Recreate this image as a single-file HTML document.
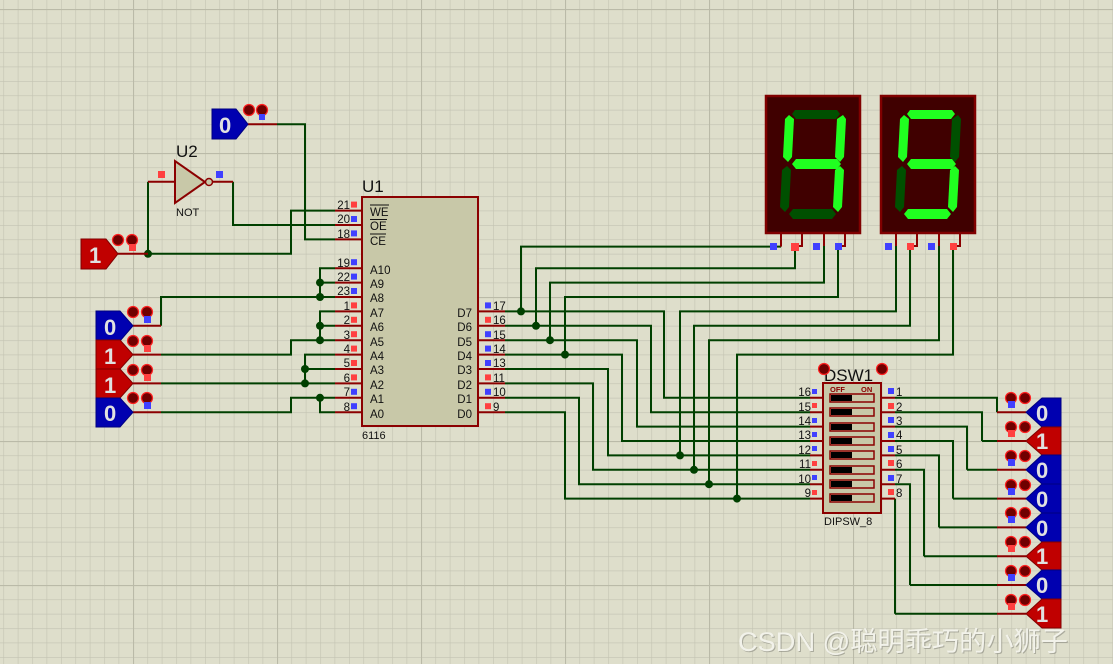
<!DOCTYPE html>
<html><head><meta charset="utf-8"><style>
html,body{margin:0;padding:0;background:#dedecb;}
svg{display:block;font-family:"Liberation Sans","Noto Sans CJK SC",sans-serif;}
</style></head><body>
<svg width="1113" height="664" viewBox="0 0 1113 664" xmlns="http://www.w3.org/2000/svg">
<defs>
<pattern id="mn" width="14.4" height="14.4" patternUnits="userSpaceOnUse" patternTransform="translate(3.4,9)">
<path d="M0 0H14.4M0 0V14.4" stroke="#c3c3b2" stroke-width="1.2" fill="none"/>
</pattern>
<pattern id="mj" width="144" height="144" patternUnits="userSpaceOnUse" patternTransform="translate(133,9)">
<path d="M0 0H144M0 0V144" stroke="#babaa8" stroke-width="2.2" fill="none"/>
</pattern>
</defs>
<rect width="1113" height="664" fill="#dedecb"/>
<rect width="1113" height="664" fill="url(#mn)"/>
<rect width="1113" height="664" fill="url(#mj)"/>

<!-- green wires -->
<g stroke="#004000" stroke-width="2" fill="none">
<path d="M277 124.2H305V239.4H335"/>
<path d="M233 181.8V225H335"/>
<path d="M148 181.8V253.8"/>
<path d="M148 253.8H291V210.6H335"/>
<path d="M161 325.8V297H335"/>
<path d="M335 268.2H320V297M320 282.6H335"/>
<path d="M161 354.6H291V340.2H335"/>
<path d="M335 311.4H320V340.2M320 325.8H335"/>
<path d="M161 383.4H335"/>
<path d="M335 354.6H305V383.4M305 369H335"/>
<path d="M161 412.2H291V397.8H335"/>
<path d="M335 412.2H320V397.8"/>
<!-- data bus -->
<path d="M505 311.4H664V397.8H810"/>
<path d="M505 325.8H651V412.2H810"/>
<path d="M505 340.2H637V426.6H810"/>
<path d="M505 354.6H622V441H810"/>
<path d="M505 369H608V455.4H810"/>
<path d="M505 383.4H593V469.8H810"/>
<path d="M505 397.8H579V484.2H810"/>
<path d="M505 412.2H565V498.6H810"/>
<!-- display 1 -->
<path d="M521 311.4V246.6H781"/>
<path d="M536 325.8V268.2H795V246"/>
<path d="M550 340.2V282.6H824V246"/>
<path d="M565 354.6V297H838V246"/>
<!-- display 2 -->
<path d="M680 455.4V311.4H896V246"/>
<path d="M694 469.8V325.8H910V246"/>
<path d="M709 484.2V340.2H939V246"/>
<path d="M737 498.6V354.6H953V246"/>
<!-- dip right -->
<path d="M895 397.8H997V412.2"/>
<path d="M895 412.2H982V441"/>
<path d="M895 426.6H967V469.8"/>
<path d="M895 441H953V498.6"/>
<path d="M895 455.4H939V527.4"/>
<path d="M895 469.8H924V556.2"/>
<path d="M895 484.2H910V585"/>
<path d="M895 498.6V613.8"/>
<path d="M997 441H982M997 469.8H967M997 498.6H953M997 527.4H939M997 556.2H924M997 585H910M997 613.8H895"/>
</g>
<g fill="#004000">
<circle cx="148" cy="253.8" r="4"/>
<circle cx="320" cy="282.6" r="4"/><circle cx="320" cy="297" r="4"/>
<circle cx="320" cy="325.8" r="4"/><circle cx="320" cy="340.2" r="4"/>
<circle cx="305" cy="369" r="4"/><circle cx="305" cy="383.4" r="4"/>
<circle cx="320" cy="397.8" r="4"/>
<circle cx="521" cy="311.4" r="4"/><circle cx="536" cy="325.8" r="4"/>
<circle cx="550" cy="340.2" r="4"/><circle cx="565" cy="354.6" r="4"/>
<circle cx="680" cy="455.4" r="4"/><circle cx="694" cy="469.8" r="4"/>
<circle cx="709" cy="484.2" r="4"/><circle cx="737" cy="498.6" r="4"/>
</g>

<!-- red pin stubs -->
<g stroke="#8b0000" stroke-width="2" fill="none">
<path d="M248 124.2H277"/>
<path d="M148 181.8H175M213 181.8H233"/>
<path d="M118 253.8H148"/>
<path d="M133 325.8H161M133 354.6H161M133 383.4H161M133 412.2H161"/>
<path d="M335 210.6H362M335 225H362M335 239.4H362M335 268.2H362M335 282.6H362M335 297H362M335 311.4H362M335 325.8H362M335 340.2H362M335 354.6H362M335 369H362M335 383.4H362M335 397.8H362M335 412.2H362"/>
<path d="M478 311.4H505M478 325.8H505M478 340.2H505M478 354.6H505M478 369H505M478 383.4H505M478 397.8H505M478 412.2H505"/>
<path d="M810 397.8H823M810 412.2H823M810 426.6H823M810 441H823M810 455.4H823M810 469.8H823M810 484.2H823M810 498.6H823"/>
<path d="M881 397.8H895M881 412.2H895M881 426.6H895M881 441H895M881 455.4H895M881 469.8H895M881 484.2H895M881 498.6H895"/>
<path d="M997 412.2H1026M997 441H1026M997 469.8H1026M997 498.6H1026M997 527.4H1026M997 556.2H1026M997 585H1026M997 613.8H1026"/>
<path d="M781 233V246.6M802 233V246H795M824 233V246M845 233V246H838"/>
<path d="M896 233V246M917 233V246H910M939 233V246M960 233V246H953"/>
</g>

<!-- U1 chip -->
<rect x="362" y="197" width="116" height="229" fill="#c8c8a8" stroke="#8b0000" stroke-width="2"/>
<text x="362" y="192" font-size="17" fill="#111">U1</text>
<text x="362" y="439" font-size="11" fill="#111">6116</text>
<g font-size="11.5" fill="#111">
<text x="370" y="216">WE</text><text x="370" y="230">OE</text><text x="370" y="245">CE</text>
<path d="M370 205H389M370 219.5H387M370 234H386" stroke="#111" stroke-width="1"/>
<text x="370" y="274">A10</text><text x="370" y="288">A9</text><text x="370" y="302">A8</text>
<text x="370" y="317">A7</text><text x="370" y="331">A6</text><text x="370" y="346">A5</text>
<text x="370" y="360">A4</text><text x="370" y="374">A3</text><text x="370" y="389">A2</text>
<text x="370" y="403">A1</text><text x="370" y="418">A0</text>
<g text-anchor="end">
<text x="472" y="317">D7</text><text x="472" y="331">D6</text><text x="472" y="346">D5</text>
<text x="472" y="360">D4</text><text x="472" y="374">D3</text><text x="472" y="389">D2</text>
<text x="472" y="403">D1</text><text x="472" y="418">D0</text>
</g>
</g>
<g font-size="11.5" fill="#111" text-anchor="end">
<text x="350" y="209">21</text><text x="350" y="223">20</text><text x="350" y="238">18</text>
<text x="350" y="267">19</text><text x="350" y="281">22</text><text x="350" y="295">23</text>
<text x="350" y="310">1</text><text x="350" y="324">2</text><text x="350" y="339">3</text>
<text x="350" y="353">4</text><text x="350" y="367">5</text><text x="350" y="382">6</text>
<text x="350" y="396">7</text><text x="350" y="411">8</text>
</g>
<g font-size="11.5" fill="#111">
<text x="493" y="310">17</text><text x="493" y="324">16</text><text x="493" y="339">15</text>
<text x="493" y="353">14</text><text x="493" y="367">13</text><text x="493" y="382">11</text>
<text x="493" y="396">10</text><text x="493" y="411">9</text>
</g>
<g>
<rect x="351" y="201.6" width="6" height="6" fill="#ff4040"/>
<rect x="351" y="216" width="6" height="6" fill="#4040ff"/>
<rect x="351" y="230.4" width="6" height="6" fill="#4040ff"/>
<rect x="351" y="259.2" width="6" height="6" fill="#4040ff"/>
<rect x="351" y="273.6" width="6" height="6" fill="#4040ff"/>
<rect x="351" y="288" width="6" height="6" fill="#4040ff"/>
<rect x="351" y="302.4" width="6" height="6" fill="#ff4040"/>
<rect x="351" y="316.8" width="6" height="6" fill="#ff4040"/>
<rect x="351" y="331.2" width="6" height="6" fill="#ff4040"/>
<rect x="351" y="345.6" width="6" height="6" fill="#ff4040"/>
<rect x="351" y="360" width="6" height="6" fill="#ff4040"/>
<rect x="351" y="374.4" width="6" height="6" fill="#ff4040"/>
<rect x="351" y="388.8" width="6" height="6" fill="#4040ff"/>
<rect x="351" y="403.2" width="6" height="6" fill="#4040ff"/>
<rect x="485" y="302.4" width="6" height="6" fill="#4040ff"/>
<rect x="485" y="316.8" width="6" height="6" fill="#ff4040"/>
<rect x="485" y="331.2" width="6" height="6" fill="#4040ff"/>
<rect x="485" y="345.6" width="6" height="6" fill="#4040ff"/>
<rect x="485" y="360" width="6" height="6" fill="#4040ff"/>
<rect x="485" y="374.4" width="6" height="6" fill="#ff4040"/>
<rect x="485" y="388.8" width="6" height="6" fill="#4040ff"/>
<rect x="485" y="403.2" width="6" height="6" fill="#ff4040"/>
</g>

<!-- NOT gate -->
<polygon points="175,161 175,203 205,182" fill="#c8c8a8" stroke="#8b0000" stroke-width="2"/>
<circle cx="209" cy="182" r="3.5" fill="#c8c8a8" stroke="#8b0000" stroke-width="1.5"/>
<text x="176" y="157" font-size="17" fill="#111">U2</text>
<text x="176" y="216" font-size="11" fill="#111">NOT</text>
<rect x="158" y="171" width="7" height="7" fill="#ff4040"/>
<rect x="216" y="171" width="7" height="7" fill="#4040ff"/>

<!-- logic states left -->
<g font-weight="bold" font-size="22" fill="#e0e0e0">
<polygon points="212,109 236,109 248,124.2 236,139 212,139" fill="#0000b0" stroke="#000080"/>
<text x="219" y="133">0</text>
<polygon points="81,239 106,239 118,253.8 106,269 81,269" fill="#c00000" stroke="#800000"/>
<text x="89" y="263">1</text>
<polygon points="96,311 120,311 133,325.8 120,341 96,341" fill="#0000b0" stroke="#000080"/>
<text x="104" y="335">0</text>
<polygon points="96,340 120,340 133,354.6 120,369 96,369" fill="#c00000" stroke="#800000"/>
<text x="104" y="364">1</text>
<polygon points="96,369 120,369 133,383.4 120,398 96,398" fill="#c00000" stroke="#800000"/>
<text x="104" y="393">1</text>
<polygon points="96,398 120,398 133,412.2 120,427 96,427" fill="#0000b0" stroke="#000080"/>
<text x="104" y="421">0</text>
</g>
<g fill="#700000" stroke="#ff2020" stroke-width="1.2">
<circle cx="249" cy="110" r="5.5"/><circle cx="262" cy="110" r="5.5"/>
<circle cx="118" cy="240" r="5.5"/><circle cx="132" cy="240" r="5.5"/>
<circle cx="133" cy="312" r="5.5"/><circle cx="147" cy="312" r="5.5"/>
<circle cx="133" cy="341" r="5.5"/><circle cx="147" cy="341" r="5.5"/>
<circle cx="133" cy="370" r="5.5"/><circle cx="147" cy="370" r="5.5"/>
<circle cx="133" cy="398" r="5.5"/><circle cx="147" cy="398" r="5.5"/>
</g>
<rect x="259" y="114" width="6" height="6" fill="#4040ff"/>
<rect x="129" y="244" width="7" height="7" fill="#ff4040"/>
<rect x="144" y="316" width="7" height="7" fill="#4040ff"/>
<rect x="144" y="345" width="7" height="7" fill="#ff4040"/>
<rect x="144" y="374" width="7" height="7" fill="#ff4040"/>
<rect x="144" y="402" width="7" height="7" fill="#4040ff"/>

<!-- displays -->
<g>
<rect x="766" y="96" width="94" height="137" fill="#400000" stroke="#800000" stroke-width="2.5"/>
<g transform="translate(765,95)">
<polygon points="30,15 72,15 75,19 71,24 31,24 27,19" fill="#005000"/>
<polygon points="24,20 29,24 27,62 23,67 18,62 20,24" fill="#20ff20"/>
<polygon points="78,20 81,24 79,62 75,67 70,62 72,24" fill="#20ff20"/>
<polygon points="27,69 31,64 72,64 76,69 72,74 31,74" fill="#20ff20"/>
<polygon points="22,71 26,75 24,112 20,117 15,112 17,75" fill="#005000"/>
<polygon points="75,71 79,75 77,112 73,117 68,112 70,75" fill="#20ff20"/>
<polygon points="24,119 28,114 67,114 71,119 67,124 28,124" fill="#005000"/>
</g>
<rect x="881" y="96" width="94" height="137" fill="#400000" stroke="#800000" stroke-width="2.5"/>
<g transform="translate(880,95)">
<polygon points="30,15 72,15 75,19 71,24 31,24 27,19" fill="#20ff20"/>
<polygon points="24,20 29,24 27,62 23,67 18,62 20,24" fill="#20ff20"/>
<polygon points="78,20 81,24 79,62 75,67 70,62 72,24" fill="#005000"/>
<polygon points="27,69 31,64 72,64 76,69 72,74 31,74" fill="#20ff20"/>
<polygon points="22,71 26,75 24,112 20,117 15,112 17,75" fill="#005000"/>
<polygon points="75,71 79,75 77,112 73,117 68,112 70,75" fill="#20ff20"/>
<polygon points="24,119 28,114 67,114 71,119 67,124 28,124" fill="#20ff20"/>
</g>
<rect x="770" y="243" width="7" height="7" fill="#4040ff"/>
<rect x="791" y="243" width="8" height="8" fill="#ff4040"/>
<rect x="813" y="243" width="7" height="7" fill="#4040ff"/>
<rect x="835" y="243" width="7" height="7" fill="#4040ff"/>
<rect x="885" y="243" width="7" height="7" fill="#4040ff"/>
<rect x="907" y="243" width="7" height="7" fill="#ff4040"/>
<rect x="928" y="243" width="7" height="7" fill="#4040ff"/>
<rect x="950" y="243" width="7" height="7" fill="#ff4040"/>
</g>

<!-- DIP switch -->
<rect x="823" y="383" width="58" height="130" fill="#c8c8a8" stroke="#8b0000" stroke-width="2"/>
<text x="824" y="381" font-size="17" fill="#111">DSW1</text>
<text x="824" y="525" font-size="11" fill="#111">DIPSW_8</text>
<text x="830" y="392" font-size="7.5" font-weight="bold" fill="#8b0000">OFF</text>
<text x="861" y="392" font-size="7.5" font-weight="bold" fill="#8b0000">ON</text>
<g fill="#700000" stroke="#ff2020" stroke-width="1.2">
<circle cx="824" cy="369" r="5.5"/><circle cx="882" cy="369" r="5.5"/>
</g>
<g>
<g stroke="#8b0000" stroke-width="1.5" fill="#c8c8a8">
<rect x="830" y="394" width="44" height="8"/><rect x="830" y="408" width="44" height="8"/>
<rect x="830" y="423" width="44" height="8"/><rect x="830" y="437" width="44" height="8"/>
<rect x="830" y="451" width="44" height="8"/><rect x="830" y="466" width="44" height="8"/>
<rect x="830" y="480" width="44" height="8"/><rect x="830" y="494" width="44" height="8"/>
</g>
<g fill="#000">
<rect x="831" y="395" width="21" height="6"/><rect x="831" y="409" width="21" height="6"/>
<rect x="831" y="424" width="21" height="6"/><rect x="831" y="438" width="21" height="6"/>
<rect x="831" y="452" width="21" height="6"/><rect x="831" y="467" width="21" height="6"/>
<rect x="831" y="481" width="21" height="6"/><rect x="831" y="495" width="21" height="6"/>
</g>
</g>
<g font-size="11.5" fill="#111" text-anchor="end">
<text x="811" y="396">16</text><text x="811" y="411">15</text><text x="811" y="425">14</text>
<text x="811" y="439">13</text><text x="811" y="454">12</text><text x="811" y="468">11</text>
<text x="811" y="483">10</text><text x="811" y="497">9</text>
</g>
<g font-size="11.5" fill="#111">
<text x="896" y="396">1</text><text x="896" y="411">2</text><text x="896" y="425">3</text>
<text x="896" y="439">4</text><text x="896" y="454">5</text><text x="896" y="468">6</text>
<text x="896" y="483">7</text><text x="896" y="497">8</text>
</g>
<g>
<rect x="812" y="389" width="5" height="5" fill="#4040ff"/><rect x="812" y="403" width="5" height="5" fill="#ff4040"/>
<rect x="812" y="418" width="5" height="5" fill="#4040ff"/><rect x="812" y="432" width="5" height="5" fill="#4040ff"/>
<rect x="812" y="446" width="5" height="5" fill="#4040ff"/><rect x="812" y="461" width="5" height="5" fill="#ff4040"/>
<rect x="812" y="475" width="5" height="5" fill="#4040ff"/><rect x="812" y="490" width="5" height="5" fill="#ff4040"/>
<rect x="888" y="388" width="6" height="6" fill="#4040ff"/><rect x="888" y="403" width="6" height="6" fill="#ff4040"/>
<rect x="888" y="417" width="6" height="6" fill="#4040ff"/><rect x="888" y="432" width="6" height="6" fill="#4040ff"/>
<rect x="888" y="446" width="6" height="6" fill="#4040ff"/><rect x="888" y="460" width="6" height="6" fill="#ff4040"/>
<rect x="888" y="475" width="6" height="6" fill="#4040ff"/><rect x="888" y="489" width="6" height="6" fill="#ff4040"/>
</g>

<!-- logic states right -->
<g font-weight="bold" font-size="22" fill="#e0e0e0">
<polygon points="1061,398 1042,398 1026,412.2 1042,427 1061,427" fill="#0000b0" stroke="#000080"/><text x="1036" y="421">0</text>
<polygon points="1061,427 1042,427 1026,441 1042,455 1061,455" fill="#c00000" stroke="#800000"/><text x="1036" y="449">1</text>
<polygon points="1061,455 1042,455 1026,469.8 1042,484 1061,484" fill="#0000b0" stroke="#000080"/><text x="1036" y="478">0</text>
<polygon points="1061,484 1042,484 1026,498.6 1042,513 1061,513" fill="#0000b0" stroke="#000080"/><text x="1036" y="507">0</text>
<polygon points="1061,513 1042,513 1026,527.4 1042,542 1061,542" fill="#0000b0" stroke="#000080"/><text x="1036" y="536">0</text>
<polygon points="1061,542 1042,542 1026,556.2 1042,570 1061,570" fill="#c00000" stroke="#800000"/><text x="1036" y="564">1</text>
<polygon points="1061,570 1042,570 1026,585 1042,599 1061,599" fill="#0000b0" stroke="#000080"/><text x="1036" y="593">0</text>
<polygon points="1061,599 1042,599 1026,613.8 1042,628 1061,628" fill="#c00000" stroke="#800000"/><text x="1036" y="622">1</text>
</g>
<g fill="#700000" stroke="#ff2020" stroke-width="1.2">
<circle cx="1011" cy="398" r="5.5"/><circle cx="1025" cy="398" r="5.5"/>
<circle cx="1011" cy="427" r="5.5"/><circle cx="1025" cy="427" r="5.5"/>
<circle cx="1011" cy="456" r="5.5"/><circle cx="1025" cy="456" r="5.5"/>
<circle cx="1011" cy="485" r="5.5"/><circle cx="1025" cy="485" r="5.5"/>
<circle cx="1011" cy="513" r="5.5"/><circle cx="1025" cy="513" r="5.5"/>
<circle cx="1011" cy="542" r="5.5"/><circle cx="1025" cy="542" r="5.5"/>
<circle cx="1011" cy="571" r="5.5"/><circle cx="1025" cy="571" r="5.5"/>
<circle cx="1011" cy="600" r="5.5"/><circle cx="1025" cy="600" r="5.5"/>
</g>
<rect x="1008" y="401" width="7" height="7" fill="#4040ff"/>
<rect x="1008" y="430" width="7" height="7" fill="#ff4040"/>
<rect x="1008" y="459" width="7" height="7" fill="#4040ff"/>
<rect x="1008" y="488" width="7" height="7" fill="#4040ff"/>
<rect x="1008" y="516" width="7" height="7" fill="#4040ff"/>
<rect x="1008" y="545" width="7" height="7" fill="#ff4040"/>
<rect x="1008" y="574" width="7" height="7" fill="#4040ff"/>
<rect x="1008" y="603" width="7" height="7" fill="#ff4040"/>

<!-- watermark -->
<text x="738" y="651" font-size="27" fill="#8a8a80" opacity="0.6" textLength="330" lengthAdjust="spacingAndGlyphs" transform="translate(1,1)">CSDN @聪明乖巧的小狮子</text>
<text x="738" y="651" font-size="27" fill="#f2f2ea" textLength="330" lengthAdjust="spacingAndGlyphs">CSDN @聪明乖巧的小狮子</text>
</svg>
</body></html>
